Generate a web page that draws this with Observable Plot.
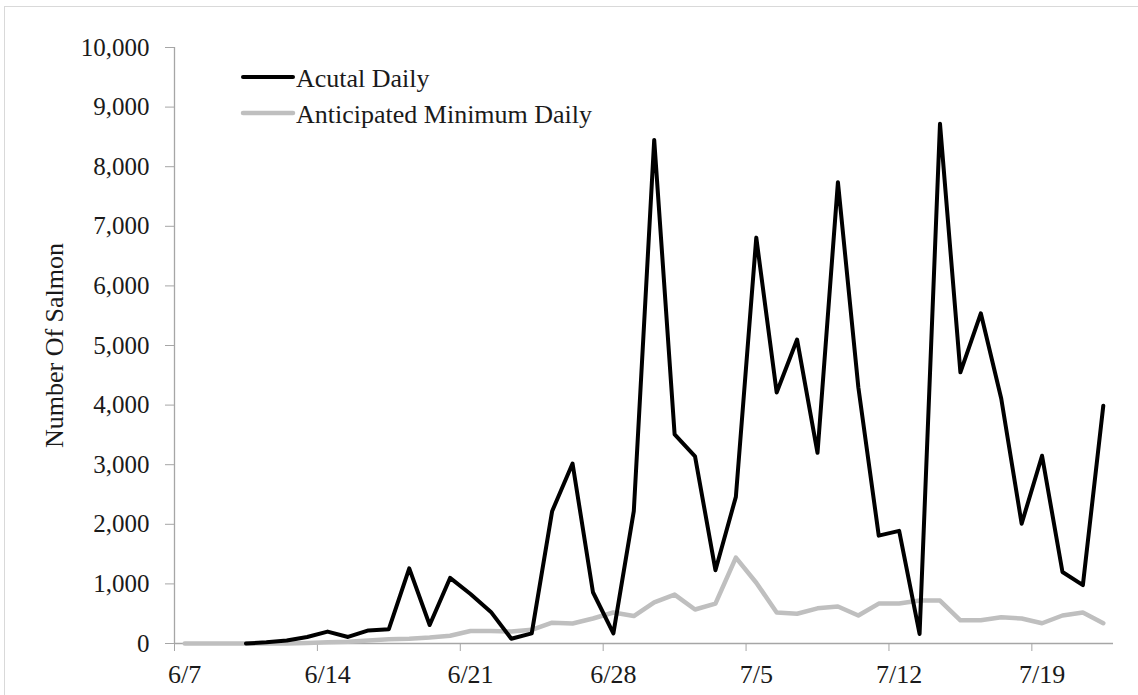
<!DOCTYPE html>
<html>
<head>
<meta charset="utf-8">
<script src="https://cdn.jsdelivr.net/npm/d3@7"></script>
<script src="https://cdn.jsdelivr.net/npm/@observablehq/plot@0.6"></script>
<style>
  html, body { margin: 0; padding: 0; background: #fff; }
  #wrap { position: relative; width: 1138px; height: 695px; overflow: hidden; font-family: "Liberation Serif", "Times New Roman", serif; }
  #border { position: absolute; left: 4px; top: 6px; width: 1200px; height: 800px; border: 1px solid #d9d9d9; box-sizing: border-box; pointer-events: none; }
  #legend { position: absolute; left: 0; top: 0; }
</style>
</head>
<body>
<div id="wrap"><div id="border"></div></div>
<script>
// Categories (one per day)
const dates = ["6/7","6/8","6/9","6/10","6/11","6/12","6/13","6/14","6/15","6/16","6/17","6/18","6/19","6/20",
  "6/21","6/22","6/23","6/24","6/25","6/26","6/27","6/28","6/29","6/30","7/1","7/2","7/3","7/4","7/5","7/6",
  "7/7","7/8","7/9","7/10","7/11","7/12","7/13","7/14","7/15","7/16","7/17","7/18","7/19","7/20","7/21","7/22"];
// Series values
const actualDaily = [null,null,null,0,20,50,110,200,110,220,240,1260,310,1100,830,530,80,170,2220,3020,860,170,2220,8450,
  3510,3140,1230,2460,6810,4210,5100,3200,7740,4300,1810,1890,160,8720,4550,5540,4110,2010,3150,1200,980,3990];
const anticipatedMinDaily = [0,0,0,0,0,0,10,20,30,50,70,80,100,130,210,210,200,230,350,335,420,520,460,690,
  820,570,670,1440,1020,520,500,590,620,470,670,670,720,720,390,390,440,420,340,470,520,340];
// Tick labels
const xTickLabels = ["6/7","6/14","6/21","6/28","7/5","7/12","7/19"];
const yTicks = [0,1000,2000,3000,4000,5000,6000,7000,8000,9000,10000];
const seriesNames = ["Acutal Daily", "Anticipated Minimum Daily"];

const rowsActual = dates.map((d, i) => ({i, date: d, v: actualDaily[i]})).filter(r => r.v != null);
const rowsAnt = dates.map((d, i) => ({i, date: d, v: anticipatedMinDaily[i]}));
const labelIdx = xTickLabels.map(l => dates.indexOf(l));
const tickPos = labelIdx.map(i => i - 0.5);

const axisColor = "#a6a6a6";
const textColor = "#1a1a1a";

const chart = Plot.plot({
  width: 1138,
  height: 695,
  marginLeft: 174,
  marginRight: 25,
  marginTop: 47,
  marginBottom: 52,
  style: {fontFamily: "'Liberation Serif', 'Times New Roman', serif", background: "transparent", color: textColor},
  x: {type: "linear", domain: [-0.5, dates.length - 0.5]},
  y: {domain: [0, 10000]},
  marks: [
    Plot.ruleX([-0.5], {stroke: axisColor, strokeWidth: 1.3}),
    Plot.ruleY([0], {stroke: axisColor, strokeWidth: 1.3}),
    Plot.axisY({ticks: yTicks, tickSize: 9, tickPadding: 16, tickFormat: d3.format(","), fontSize: 25, stroke: axisColor, fill: textColor, label: null}),
    Plot.axisX({ticks: tickPos, tickSize: 8, tickFormat: () => "", stroke: axisColor, label: null}),
    Plot.axisX({ticks: labelIdx, tickSize: 0, tickPadding: 21, tickFormat: i => dates[i], fontSize: 26, fill: textColor, label: null}),
    Plot.text(["Number Of Salmon"], {frameAnchor: "left", dx: -120, rotate: -90, textAnchor: "middle", lineAnchor: "middle", fontSize: 26, fill: textColor}),
    Plot.line(rowsAnt, {x: "i", y: "v", stroke: "#bfbfbf", strokeWidth: 4.5, strokeLinejoin: "round", strokeLinecap: "round"}),
    Plot.line(rowsActual, {x: "i", y: "v", stroke: "#000", strokeWidth: 4, strokeLinejoin: "round", strokeLinecap: "round"})
  ]
});
chart.style.position = "absolute";
chart.style.left = "0px";
chart.style.top = "0px";
const wrap = document.getElementById("wrap");
wrap.appendChild(chart);

// Legend (inside plot area, top-left)
const ns = "http://www.w3.org/2000/svg";
const leg = document.createElementNS(ns, "svg");
leg.setAttribute("id", "legend");
leg.setAttribute("width", 700);
leg.setAttribute("height", 160);
const items = [
  {name: seriesNames[0], color: "#000", w: 4, y: 77},
  {name: seriesNames[1], color: "#bfbfbf", w: 4.5, y: 113}
];
for (const it of items) {
  const ln = document.createElementNS(ns, "line");
  ln.setAttribute("x1", 243); ln.setAttribute("x2", 293);
  ln.setAttribute("y1", it.y); ln.setAttribute("y2", it.y);
  ln.setAttribute("stroke", it.color); ln.setAttribute("stroke-width", it.w);
  ln.setAttribute("stroke-linecap", "round");
  leg.appendChild(ln);
  const tx = document.createElementNS(ns, "text");
  tx.setAttribute("x", 296); tx.setAttribute("y", it.y + 9.5);
  tx.setAttribute("font-size", 26);
  tx.setAttribute("fill", textColor);
  tx.setAttribute("font-family", "'Liberation Serif', 'Times New Roman', serif");
  tx.textContent = it.name;
  leg.appendChild(tx);
}
wrap.appendChild(leg);
</script>
</body>
</html>
